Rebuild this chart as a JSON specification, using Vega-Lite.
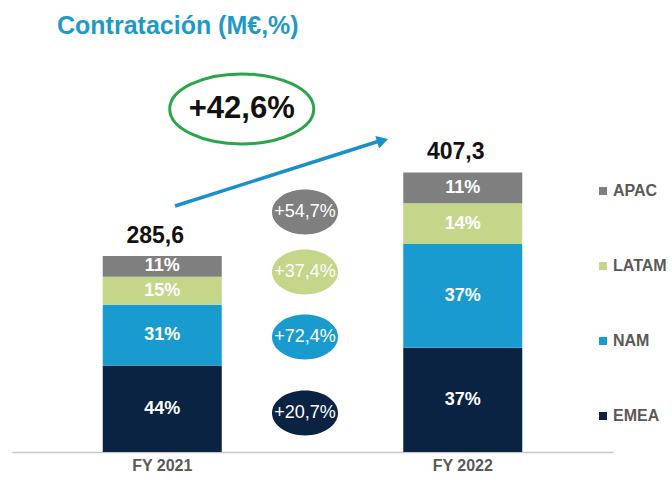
{
  "$schema": "https://vega.github.io/schema/vega-lite/v6.json",
  "width": 601,
  "height": 407,
  "autosize": {"type": "none"},
  "padding": {"left": 12, "top": 45, "right": 59, "bottom": 25},
  "background": "white",
  "title": {
    "text": "Contratación (M€,%)",
    "anchor": "start",
    "dx": 45,
    "dy": 24,
    "offset": 10,
    "baseline": "alphabetic",
    "font": "Liberation Sans",
    "fontSize": 25,
    "fontWeight": "bold",
    "color": "#1e9ac6"
  },
  "config": {
    "view": {"stroke": null},
    "font": "Liberation Sans",
    "legend": {
      "orient": "none",
      "legendX": 583,
      "legendY": 138,
      "padding": 0,
      "symbolType": "square",
      "symbolSize": 64,
      "symbolStrokeWidth": 0,
      "labelFont": "Liberation Sans",
      "labelFontSize": 16,
      "labelFontWeight": "bold",
      "labelColor": "#595959",
      "labelOffset": 2,
      "rowPadding": 59
    }
  },
  "datasets": {
    "bars": [
      {"year": "FY 2021", "region": "EMEA", "ord": 1, "value": 126.0, "pct": "44%"},
      {"year": "FY 2021", "region": "NAM", "ord": 2, "value": 88.5, "pct": "31%"},
      {"year": "FY 2021", "region": "LATAM", "ord": 3, "value": 40.9, "pct": "15%"},
      {"year": "FY 2021", "region": "APAC", "ord": 4, "value": 30.2, "pct": "11%"},
      {"year": "FY 2022", "region": "EMEA", "ord": 1, "value": 152.0, "pct": "37%"},
      {"year": "FY 2022", "region": "NAM", "ord": 2, "value": 151.0, "pct": "37%"},
      {"year": "FY 2022", "region": "LATAM", "ord": 3, "value": 59.5, "pct": "14%"},
      {"year": "FY 2022", "region": "APAC", "ord": 4, "value": 44.8, "pct": "11%"}
    ],
    "totals": [
      {"year": "FY 2021", "total": 285.6, "label": "285,6"},
      {"year": "FY 2022", "total": 407.3, "label": "407,3"}
    ],
    "growth": [
      {"region": "APAC", "g": "+54,7%", "gy": 349.7},
      {"region": "LATAM", "g": "+37,4%", "gy": 262.3},
      {"region": "NAM", "g": "+72,4%", "gy": 167.6},
      {"region": "EMEA", "g": "+20,7%", "gy": 56.8}
    ],
    "total_growth": [
      {"ax": 0.529, "ay": 499.8, "label": "+42,6%"}
    ],
    "arrow": [
      {"ax": 0.085, "ay": 358.4},
      {"ax": 1.451, "ay": 453.5}
    ],
    "arrowhead": [
      {"ax": 1.455, "ay": 453.0}
    ]
  },
  "resolve": {"scale": {"x": "independent"}, "axis": {"x": "independent"}},
  "layer": [
    {
      "layer": [
        {
          "data": {"name": "bars"},
          "mark": {"type": "bar", "width": 119},
          "encoding": {
            "x": {
              "field": "year",
              "type": "nominal",
              "scale": {"domain": ["FY 2021", "growth", "FY 2022"], "paddingInner": 0, "paddingOuter": 0.5},
              "axis": {
                "title": null,
                "labelAngle": 0,
                "ticks": false,
                "domainColor": "#c8c8c8",
                "domainWidth": 1.5,
                "labelFont": "Liberation Sans",
                "labelFontSize": 16,
                "labelFontWeight": "bold",
                "labelColor": "#595959",
                "labelPadding": 5,
                "labelExpr": "datum.label == 'growth' ? '' : datum.label"
              }
            },
            "y": {
              "field": "value",
              "type": "quantitative",
              "stack": "zero",
              "scale": {"domain": [0, 593], "nice": false},
              "axis": null
            },
            "order": {"field": "ord", "type": "quantitative"},
            "color": {
              "field": "region",
              "type": "nominal",
              "scale": {
                "domain": ["APAC", "LATAM", "NAM", "EMEA"],
                "range": ["#7f7f7f", "#c3d68a", "#1a9bd0", "#0b2343"]
              },
              "legend": {"title": null}
            }
          }
        },
        {
          "data": {"name": "bars"},
          "mark": {"type": "text", "baseline": "middle", "align": "center", "fontSize": 18, "fontWeight": "bold", "color": "white"},
          "encoding": {
            "x": {"field": "year", "type": "nominal"},
            "y": {
              "field": "value",
              "type": "quantitative",
              "stack": "zero",
              "bandPosition": 0.5,
              "scale": {"domain": [0, 593], "nice": false}
            },
            "order": {"field": "ord", "type": "quantitative"},
            "text": {"field": "pct", "type": "nominal"}
          }
        },
        {
          "data": {"name": "totals"},
          "mark": {"type": "text", "baseline": "alphabetic", "align": "center", "dy": -13, "dx": -7, "fontSize": 23, "fontWeight": "bold", "color": "#111111"},
          "encoding": {
            "x": {"field": "year", "type": "nominal"},
            "y": {"field": "total", "type": "quantitative", "scale": {"domain": [0, 593], "nice": false}},
            "text": {"field": "label", "type": "nominal"}
          }
        },
        {
          "data": {"name": "growth"},
          "mark": {
            "type": "point",
            "filled": true,
            "opacity": 1,
            "size": 4356,
            "shape": "M-1,0C-1,-0.3756 -0.5523,-0.68 0,-0.68C0.5523,-0.68 1,-0.3756 1,0C1,0.3756 0.5523,0.68 0,0.68C-0.5523,0.68 -1,0.3756 -1,0Z"
          },
          "encoding": {
            "x": {"datum": "growth", "type": "nominal", "bandPosition": 0.45},
            "y": {"field": "gy", "type": "quantitative", "scale": {"domain": [0, 593], "nice": false}},
            "color": {"field": "region", "type": "nominal"}
          }
        },
        {
          "data": {"name": "growth"},
          "mark": {"type": "text", "baseline": "middle", "align": "center", "fontSize": 18, "color": "white"},
          "encoding": {
            "x": {"datum": "growth", "type": "nominal", "bandPosition": 0.45},
            "y": {"field": "gy", "type": "quantitative", "scale": {"domain": [0, 593], "nice": false}},
            "text": {"field": "g", "type": "nominal"}
          }
        }
      ]
    },
    {
      "layer": [
        {
          "data": {"name": "arrow"},
          "mark": {"type": "line", "color": "#1a8fc8", "strokeWidth": 3.5},
          "encoding": {
            "x": {"field": "ax", "type": "quantitative", "scale": {"domain": [0, 2], "range": [150.25, 450.75], "nice": false, "zero": false}, "axis": null},
            "y": {"field": "ay", "type": "quantitative", "scale": {"domain": [0, 593], "nice": false}}
          }
        },
        {
          "data": {"name": "arrowhead"},
          "mark": {"type": "point", "shape": "triangle", "filled": true, "opacity": 1, "size": 170, "angle": 73, "color": "#1a8fc8"},
          "encoding": {
            "x": {"field": "ax", "type": "quantitative"},
            "y": {"field": "ay", "type": "quantitative", "scale": {"domain": [0, 593], "nice": false}}
          }
        },
        {
          "data": {"name": "total_growth"},
          "mark": {
            "type": "point",
            "filled": false,
            "fill": "white",
            "fillOpacity": 1,
            "opacity": 1,
            "stroke": "#2ba54a",
            "strokeWidth": 3,
            "size": 20736,
            "shape": "M-1,0C-1,-0.2684 -0.5523,-0.486 0,-0.486C0.5523,-0.486 1,-0.2684 1,0C1,0.2684 0.5523,0.486 0,0.486C-0.5523,0.486 -1,0.2684 -1,0Z"
          },
          "encoding": {
            "x": {"field": "ax", "type": "quantitative"},
            "y": {"field": "ay", "type": "quantitative", "scale": {"domain": [0, 593], "nice": false}}
          }
        },
        {
          "data": {"name": "total_growth"},
          "mark": {"type": "text", "baseline": "middle", "align": "center", "fontSize": 31, "fontWeight": "bold", "color": "#111111"},
          "encoding": {
            "x": {"field": "ax", "type": "quantitative"},
            "y": {"field": "ay", "type": "quantitative", "scale": {"domain": [0, 593], "nice": false}},
            "text": {"field": "label", "type": "nominal"}
          }
        }
      ]
    }
  ]
}
